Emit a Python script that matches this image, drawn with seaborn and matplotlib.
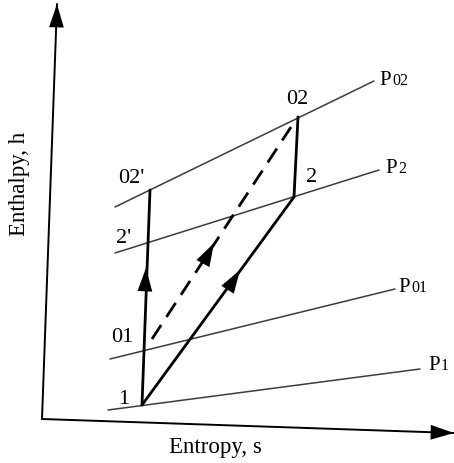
import matplotlib
matplotlib.use("Agg")
import matplotlib.pyplot as plt
import seaborn as sns
import pandas as pd

sns.set_theme(style="white")
plt.rcParams['font.family'] = ['Liberation Serif', 'DejaVu Serif']

# ---- data (figure pixel coordinates, y downward) ----
isobar_names = ["P02", "P2", "P01", "P1"]
isobar_x0 = [115, 115, 110, 108]
isobar_y0 = [208, 254, 360, 411]
isobar_x1 = [374, 379, 395, 420]
isobar_y1 = [82, 171, 290, 370]

state_names = ["1", "01", "2'", "02'", "2", "02"]
state_x = [142, 144, 147, 150, 294, 298]
state_y = [406, 351, 244, 191, 198, 118]

axis_origin = (42, 420)
axis_y_tip = (57, 5)
axis_x_tip = (454, 434)

fig = plt.figure(figsize=(4.54, 4.64), dpi=100)
ax = fig.add_axes([0, 0, 1, 1])
ax.set_xlim(0, 454)
ax.set_ylim(464, 0)
ax.axis("off")

# isobars
for n, x0, y0, x1, y1 in zip(isobar_names, isobar_x0, isobar_y0, isobar_x1, isobar_y1):
    df = pd.DataFrame({"s": [x0, x1], "h": [y0, y1]})
    sns.lineplot(data=df, x="s", y="h", ax=ax, color="#3c3c3c", lw=1.1,
                 sort=False, estimator=None)

st = dict(zip(state_names, zip(state_x, state_y)))

def seg(a, b, **kw):
    df = pd.DataFrame({"s": [a[0], b[0]], "h": [a[1], b[1]]})
    sns.lineplot(data=df, x="s", y="h", ax=ax, sort=False, estimator=None, **kw)

# process lines
seg(st["1"], st["02'"], color="black", lw=2.0)
seg(st["1"], st["2"], color="black", lw=2.0)
seg(st["2"], st["02"], color="black", lw=2.0)
seg((152, 340), (291, 128), color="black", lw=2.0, linestyle=(0, (6, 3.5)))

# axes
seg(axis_origin, axis_y_tip, color="black", lw=1.4)
seg(axis_origin, axis_x_tip, color="black", lw=1.4)

def head(tip, base):
    ax.annotate("", xy=tip, xytext=base,
                arrowprops=dict(arrowstyle="-|>,head_length=1.2,head_width=0.38",
                                color="black", lw=0, shrinkA=0, shrinkB=0,
                                mutation_scale=14))

head(axis_y_tip, (56.5, 25))
head(axis_x_tip, (434, 433.4))
head((146, 269), (145, 290))
head((214, 244), (207, 257))
head((240, 271), (228, 290))

# state labels
lab_pos = {"1": (124, 400), "01": (122, 338), "2'": (124, 239),
           "02'": (131, 179), "2": (312, 178), "02": (297, 99)}
for n in state_names:
    x, y = lab_pos[n]
    ax.text(x, y, n, fontsize=16, ha="center", va="center", color="black")

# isobar labels
P_pos = [(379, 85), (385, 173), (398, 292), (428, 370)]
subs = ["02", "2", "01", "1"]
sub_x = [392, 398, 411, 441]
for (px, py), s, sx in zip(P_pos, subs, sub_x):
    ax.text(px, py, "P", fontsize=15, ha="left", va="baseline", color="black")
    ax.text(sx, py, s, fontsize=11.5, ha="left", va="baseline", color="black")

ax.text(215, 448, "Entropy, s", fontsize=16.5, ha="center", va="center", color="black")
ax.text(20, 184, "Enthalpy, h", fontsize=16.5, ha="center", va="center",
        rotation=90, color="black")

fig.savefig("out.png", dpi=100)
